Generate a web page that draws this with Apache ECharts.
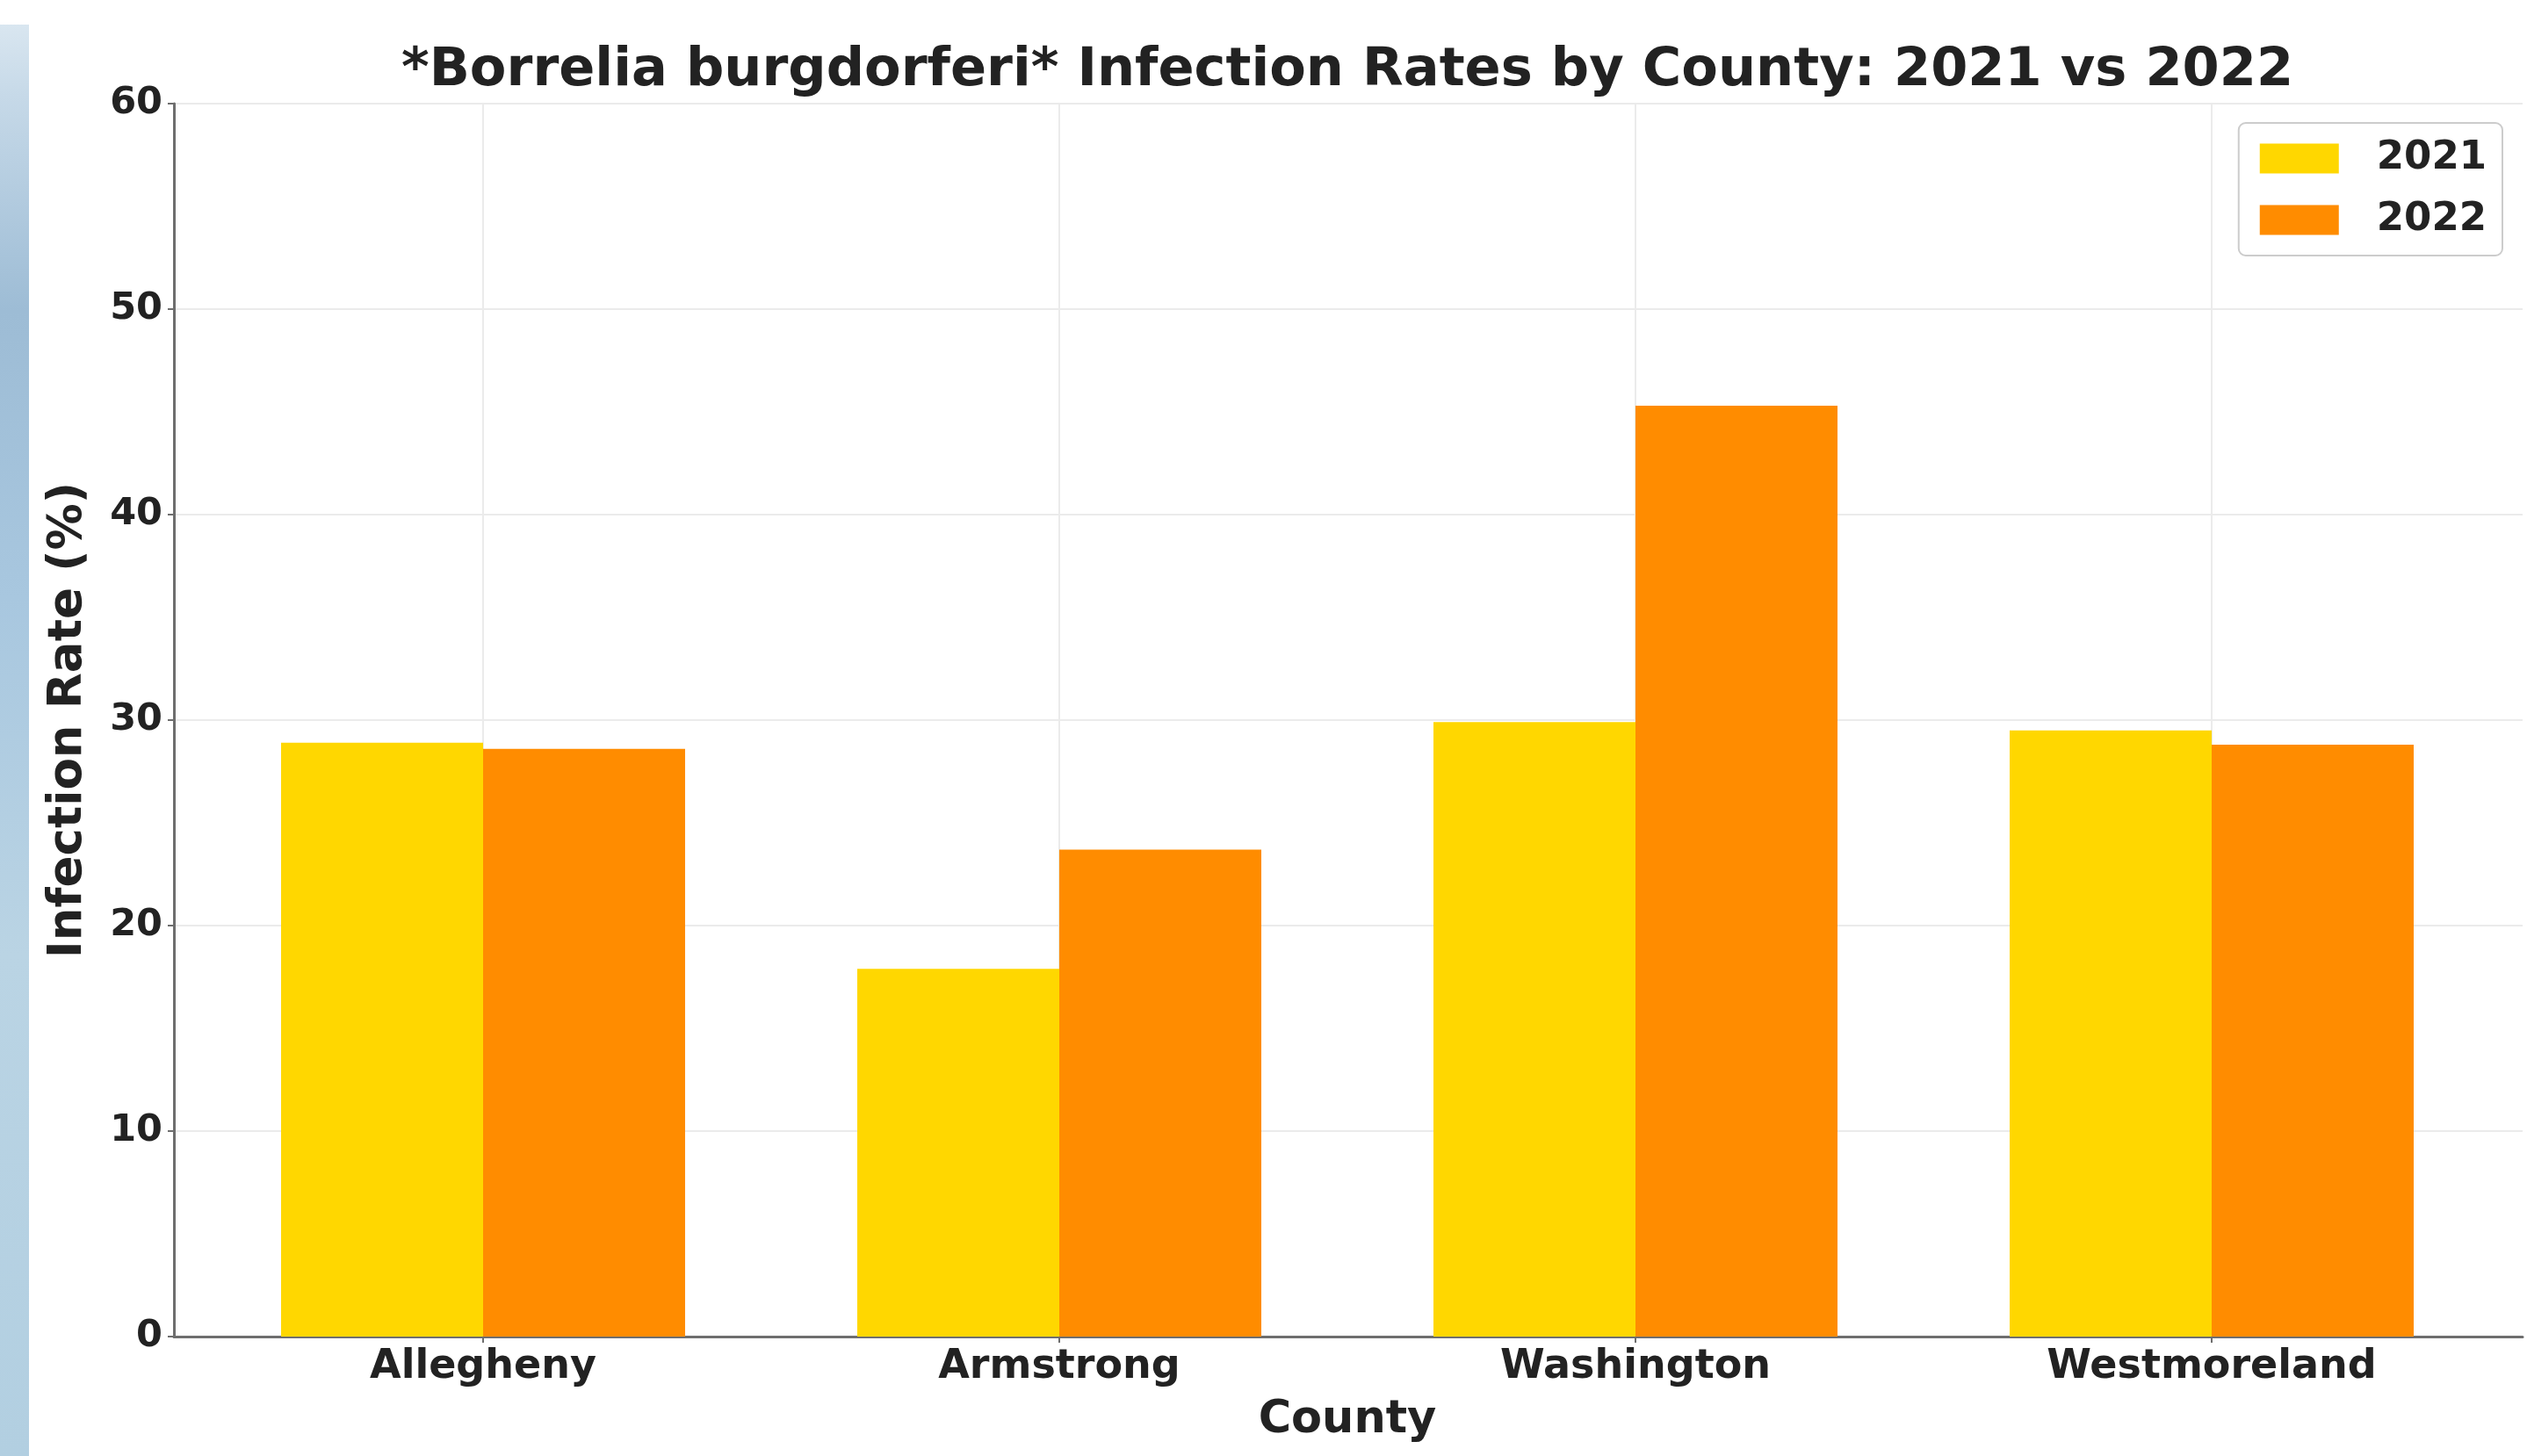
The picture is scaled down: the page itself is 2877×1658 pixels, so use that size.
<!DOCTYPE html>
<html>
<head>
<meta charset="utf-8">
<script src="https://cdn.jsdelivr.net/npm/echarts@6/dist/echarts.min.js"></script>
<style>
html,body{margin:0;padding:0;background:#fff;}
#chart{width:2877px;height:1658px;}
</style>
</head>
<body>
<div id="chart"></div>
<script>
const counties = ['Allegheny', 'Armstrong', 'Washington', 'Westmoreland'];
const rates2021 = [28.9, 17.9, 29.9, 29.5];
const rates2022 = [28.6, 23.7, 45.3, 28.8];
const seriesNames = ['2021', '2022'];
const yTicks = {min: 0, max: 60, interval: 10};
const titleText = '*Borrelia burgdorferi* Infection Rates by County: 2021 vs 2022';
const yAxisTitle = 'Infection Rate (%)';
const xAxisTitle = 'County';

const FONT = 'DejaVu Sans';
const TEXT = '#222222';
const AXIS = '#6e6e6e';
const GRIDC = '#ebebeb';

const chart = echarts.init(document.getElementById('chart'), null, {renderer: 'canvas'});
chart.setOption({
  backgroundColor: '#ffffff',
  animation: false,
  graphic: [{
    type: 'rect',
    shape: {x: 0, y: 28, width: 33, height: 1630},
    style: {
      fill: new echarts.graphic.LinearGradient(0, 0, 0, 1, [
        {offset: 0, color: '#d9e6f0'},
        {offset: 0.05, color: '#c6d9e8'},
        {offset: 0.2, color: '#9dbcd5'},
        {offset: 0.4, color: '#a8c7df'},
        {offset: 0.65, color: '#bad4e4'},
        {offset: 1, color: '#b2cfe1'}
      ])
    },
    z: -10
  }],
  title: {
    text: titleText,
    left: 452,
    top: 46,
    textStyle: {fontFamily: FONT, fontWeight: 'bold', fontSize: 60.6, color: TEXT}
  },
  legend: {
    data: seriesNames,
    orient: 'vertical',
    right: 28,
    top: 140,
    padding: [18, 18, 18, 24],
    itemGap: 25,
    itemWidth: 90,
    itemHeight: 34,
    icon: 'rect',
    borderColor: '#cccccc',
    borderWidth: 2,
    borderRadius: 8,
    backgroundColor: 'rgba(255,255,255,0.85)',
    textStyle: {fontFamily: FONT, fontWeight: 'bold', fontSize: 45, color: TEXT, padding: [0, 0, 0, 38]}
  },
  grid: [
    {left: 198, right: 5, top: 118, bottom: 136, containLabel: false},
    {left: 222, right: 31, top: 118, bottom: 136, containLabel: false},
    {left: 550, right: 359, top: 118, bottom: 136, containLabel: false}
  ],
  xAxis: [
    {
      gridIndex: 0, type: 'value', min: 0, max: 1,
      axisLine: {show: true, lineStyle: {color: AXIS, width: 3}},
      axisTick: {show: false}, axisLabel: {show: false}, splitLine: {show: false}
    },
    {
      gridIndex: 1, type: 'category', data: counties,
      axisLine: {show: false},
      axisTick: {show: true, alignWithLabel: true, length: 7, lineStyle: {color: AXIS, width: 2}},
      axisLabel: {fontFamily: FONT, fontWeight: 'bold', fontSize: 46, color: TEXT, margin: 12},
      splitLine: {show: false},
      name: xAxisTitle, nameLocation: 'middle', nameGap: 70,
      nameTextStyle: {fontFamily: FONT, fontWeight: 'bold', fontSize: 51, color: TEXT}
    },
    {
      gridIndex: 2, type: 'category', data: counties, boundaryGap: false,
      axisLine: {show: false}, axisTick: {show: false}, axisLabel: {show: false},
      splitLine: {show: true, lineStyle: {color: GRIDC, width: 2}}
    }
  ],
  yAxis: [
    {
      gridIndex: 0, type: 'value', min: yTicks.min, max: yTicks.max, interval: yTicks.interval,
      axisLine: {show: true, lineStyle: {color: AXIS, width: 3}},
      axisTick: {show: true, length: 7, lineStyle: {color: AXIS, width: 2}},
      axisLabel: {fontFamily: FONT, fontWeight: 'bold', fontSize: 43, color: TEXT, margin: 13},
      splitLine: {show: true, lineStyle: {color: GRIDC, width: 2}},
      name: yAxisTitle, nameLocation: 'middle', nameGap: 93,
      nameTextStyle: {fontFamily: FONT, fontWeight: 'bold', fontSize: 53, color: TEXT}
    },
    {
      gridIndex: 1, type: 'value', min: yTicks.min, max: yTicks.max, interval: yTicks.interval,
      axisLine: {show: false}, axisTick: {show: false}, axisLabel: {show: false}, splitLine: {show: false}
    },
    {
      gridIndex: 2, type: 'value', min: yTicks.min, max: yTicks.max, interval: yTicks.interval,
      axisLine: {show: false}, axisTick: {show: false}, axisLabel: {show: false}, splitLine: {show: false}
    }
  ],
  series: [
    {
      name: seriesNames[0], type: 'bar', xAxisIndex: 1, yAxisIndex: 1,
      data: rates2021, barWidth: 230, barGap: '0%',
      itemStyle: {color: '#FFD700'}
    },
    {
      name: seriesNames[1], type: 'bar', xAxisIndex: 1, yAxisIndex: 1,
      data: rates2022, barWidth: 230, barGap: '0%',
      itemStyle: {color: '#FF8C00'}
    }
  ]
});
</script>
</body>
</html>
